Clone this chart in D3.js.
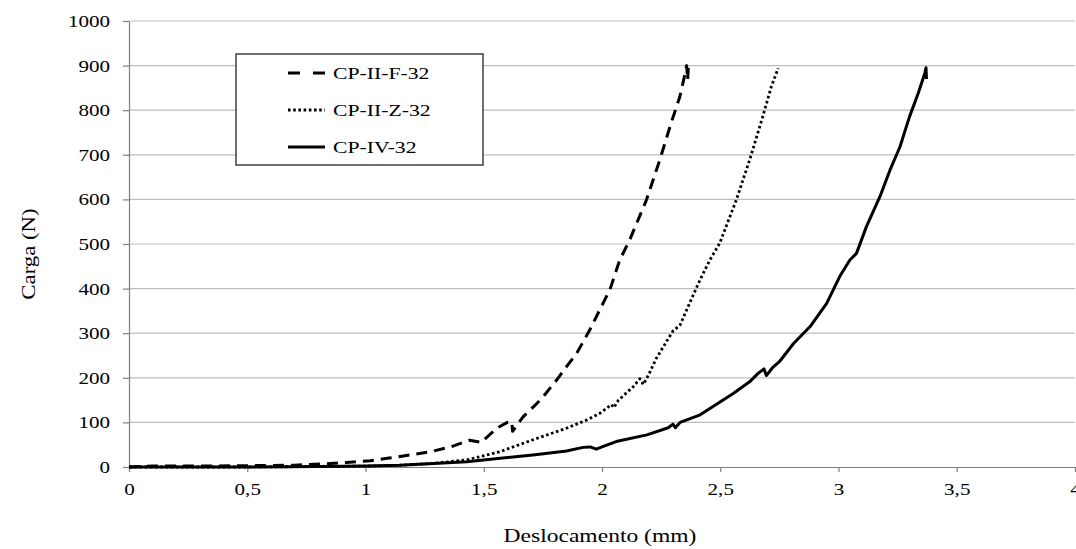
<!DOCTYPE html>
<html>
<head>
<meta charset="utf-8">
<script src="https://cdn.jsdelivr.net/npm/d3@7"></script>
<style>
  body { margin: 0; background: #fff; }
  svg, svg text { font-family: "Liberation Serif", "Times New Roman", "DejaVu Serif", serif; }
  .grid line { stroke: #bdbdbd; stroke-width: 1.2; }
  .axis path, .axis line { stroke: #7f7f7f; stroke-width: 1.2; }
  .axis text { fill: #000; font-size: 17px; }
</style>
</head>
<body>
<svg id="chart"></svg>
<script>
// CP-II-F-32 (dashed)
const xF = [0, 0.1, 0.25, 0.5, 0.7, 0.82, 0.92, 1.02, 1.1, 1.19, 1.28, 1.36, 1.44, 1.49, 1.52, 1.555, 1.6, 1.618, 1.622, 1.667, 1.72, 1.752, 1.808, 1.85, 1.893, 1.948, 1.99, 2.033, 2.075, 2.117, 2.188, 2.244, 2.294, 2.329, 2.35, 2.358, 2.362, 2.365];
const yF = [0, 2, 2, 3, 4, 7, 10, 14, 20, 27, 35, 45, 60, 55, 70, 87, 100, 102, 80, 113, 140, 158, 195, 225, 255, 307, 352, 397, 464, 509, 599, 688, 774, 830, 879, 900, 868, 895];
// CP-II-Z-32 (dotted)
const xZ = [0, 0.5, 0.8, 1.0, 1.145, 1.286, 1.428, 1.567, 1.708, 1.85, 1.934, 1.99, 2.04, 2.05, 2.07, 2.132, 2.16, 2.175, 2.2, 2.23, 2.30, 2.33, 2.37, 2.414, 2.456, 2.498, 2.568, 2.624, 2.68, 2.716, 2.745];
const yZ = [0, 0, 1, 2, 4, 8, 16, 34, 61, 87, 105, 120, 140, 133, 150, 180, 198, 185, 210, 244, 305, 318, 367, 419, 464, 502, 599, 688, 786, 853, 894];
// CP-IV-32 (solid)
const xIV = [0, 0.5, 0.8, 1.0, 1.145, 1.428, 1.708, 1.85, 1.92, 1.95, 1.976, 2.0, 2.06, 2.19, 2.28, 2.30, 2.31, 2.33, 2.415, 2.555, 2.624, 2.66, 2.685, 2.695, 2.72, 2.75, 2.81, 2.88, 2.95, 3.005, 3.048, 3.076, 3.118, 3.175, 3.218, 3.26, 3.30, 3.337, 3.365, 3.37, 3.372];
const yIV = [0, 0, 1, 2, 4, 12, 27, 36, 44, 45, 40, 45, 57, 72, 88, 96, 88, 100, 117, 165, 191, 210, 220, 205, 222, 236, 277, 315, 367, 427, 464, 479, 539, 606, 666, 718, 785, 838, 883, 895, 870];

const seriesNames = ['CP-II-F-32', 'CP-II-Z-32', 'CP-IV-32'];
const xTicks = [0, 0.5, 1, 1.5, 2, 2.5, 3, 3.5, 4];
const yTicks = [0, 100, 200, 300, 400, 500, 600, 700, 800, 900, 1000];

const FONT = '"Liberation Serif", "Times New Roman", "DejaVu Serif", serif';
const width = 1076, height = 549;
const plot = { left: 129, right: 1075, top: 21, bottom: 467 };
const SX = 1.24; // text in the picture is stretched sideways

const svg = d3.select('#chart').attr('width', width).attr('height', height);

const x = d3.scaleLinear().domain([0, 4]).range([plot.left, plot.right]);
const y = d3.scaleLinear().domain([0, 1000]).range([plot.bottom, plot.top]);

// Gridlines
svg.append('g')
  .attr('class', 'grid')
  .selectAll('line')
  .data(yTicks.filter(d => d > 0))
  .enter().append('line')
    .attr('x1', plot.left)
    .attr('x2', plot.right)
    .attr('y1', d => y(d))
    .attr('y2', d => y(d));

// Y axis
const gy = svg.append('g')
  .attr('class', 'axis')
  .attr('transform', `translate(${plot.left}, 0)`)
  .call(d3.axisLeft(y).tickValues(yTicks).tickSize(6).tickSizeOuter(0).tickFormat(d3.format('d')))
  .attr('font-family', FONT);
gy.selectAll('text')
  .attr('x', -19 / SX)
  .attr('transform', `scale(${SX}, 1)`);

// X axis
const gx = svg.append('g')
  .attr('class', 'axis')
  .attr('transform', `translate(0, ${plot.bottom})`)
  .call(d3.axisBottom(x).tickValues(xTicks).tickSize(5).tickSizeOuter(0)
    .tickFormat(d => String(d).replace('.', ',')))
  .attr('font-family', FONT);
gx.selectAll('text')
  .attr('y', 28)
  .attr('dy', 0)
  .attr('transform', `scale(${SX}, 1)`);

// Curves
const line = d3.line().x(d => x(d[0])).y(d => y(d[1]));
const curves = [
  { xs: xF, ys: yF, dash: '11,7', legendDash: '12,13', width: 3 },
  { xs: xZ, ys: yZ, dash: '2.6,2.6', legendDash: '2.6,2.6', width: 2.8 },
  { xs: xIV, ys: yIV, dash: null, legendDash: null, width: 3 },
];
svg.selectAll('path.curve')
  .data(curves)
  .enter().append('path')
    .attr('class', 'curve')
    .attr('d', c => line(d3.zip(c.xs, c.ys)))
    .attr('fill', 'none')
    .attr('stroke', '#000')
    .attr('stroke-width', c => c.width)
    .attr('stroke-linejoin', 'round')
    .attr('stroke-dasharray', c => c.dash);

// Legend
const legend = svg.append('g').attr('transform', 'translate(236, 54)');
legend.append('rect')
  .attr('width', 247)
  .attr('height', 111)
  .attr('fill', '#fff')
  .attr('stroke', '#404040')
  .attr('stroke-width', 1.5);
const rows = legend.selectAll('g.row')
  .data(seriesNames)
  .enter().append('g')
    .attr('class', 'row')
    .attr('transform', (d, i) => `translate(0, ${19 + i * 37})`);
rows.append('line')
  .attr('x1', 52)
  .attr('x2', 89)
  .attr('stroke', '#000')
  .attr('stroke-width', (d, i) => curves[i].width)
  .attr('stroke-dasharray', (d, i) => curves[i].legendDash);
rows.append('text')
  .text(d => d)
  .attr('x', 97 / SX)
  .attr('y', 6)
  .attr('transform', `scale(${SX}, 1)`)
  .attr('font-family', FONT)
  .attr('font-size', 17.5);

// Axis titles
svg.append('text')
  .text('Deslocamento (mm)')
  .attr('text-anchor', 'middle')
  .attr('x', 600 / SX)
  .attr('y', 542)
  .attr('transform', `scale(${SX}, 1)`)
  .attr('font-family', FONT)
  .attr('font-size', 19);
svg.append('text')
  .text('Carga (N)')
  .attr('text-anchor', 'middle')
  .attr('transform', `translate(35, 254) rotate(-90) scale(1.2, 1)`)
  .attr('font-family', FONT)
  .attr('font-size', 19);
</script>
</body>
</html>
